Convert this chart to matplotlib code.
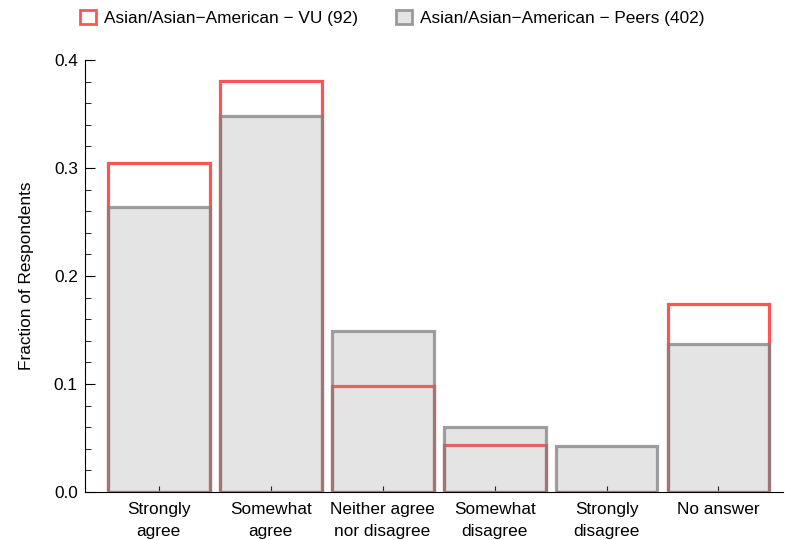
import matplotlib.pyplot as plt
from matplotlib.patches import Patch
from matplotlib.ticker import MultipleLocator

plt.rcParams['font.family'] = ['Liberation Sans', 'DejaVu Sans']

categories = ['Strongly\nagree', 'Somewhat\nagree', 'Neither agree\nnor disagree',
              'Somewhat\ndisagree', 'Strongly\ndisagree', 'No answer']
vu_counts = [28, 35, 9, 4, 0, 16]
peer_counts = [106, 140, 60, 24, 17, 55]
vu_label = 'Asian/Asian\u2212American \u2212 VU (92)'
peer_label = 'Asian/Asian\u2212American \u2212 Peers (402)'

vu = [c / sum(vu_counts) for c in vu_counts]
peers = [c / sum(peer_counts) for c in peer_counts]

red = (1.0, 0.33, 0.33)
gray_edge = (0.5, 0.5, 0.5, 0.75)
gray_fill = (0.58, 0.58, 0.58, 0.25)
fs = 12.4

fig = plt.figure(figsize=(7.85, 5.4), dpi=100)
ax = fig.add_axes([0.108, 0.089, 0.89, 0.8])

x = range(len(categories))
ax.bar(x, vu, width=0.91, facecolor='none', edgecolor=red, linewidth=2.3, zorder=2)
ax.bar(x, peers, width=0.91, facecolor=gray_fill, edgecolor=gray_edge, linewidth=2.3, zorder=3)

ax.set_xlim(-0.66, 5.58)
ax.set_ylim(0, 0.4)
ax.set_xticks(list(x))
ax.set_xticklabels(categories, fontsize=fs, linespacing=1.65)
ax.yaxis.set_major_locator(MultipleLocator(0.1))
ax.yaxis.set_minor_locator(MultipleLocator(0.02))
ax.yaxis.set_major_formatter(plt.FuncFormatter(lambda v, p: f'{v:.1f}'))
ax.tick_params(axis='y', which='major', direction='in', length=7, labelsize=fs, pad=5)
ax.tick_params(axis='y', which='minor', direction='in', length=4)
ax.tick_params(axis='x', direction='in', length=4, pad=7)
ax.spines['top'].set_visible(False)
ax.spines['right'].set_visible(False)
ax.set_ylabel('Fraction of Respondents', fontsize=fs, labelpad=14)

handles = [Patch(facecolor='white', edgecolor=red, linewidth=2),
           Patch(facecolor='#e4e4e4', edgecolor='#999999', linewidth=2)]
fig.legend(handles, [vu_label, peer_label], loc='center', bbox_to_anchor=(0.5, 0.967),
           ncol=2, frameon=False, fontsize=fs, handlelength=0.9, handleheight=0.9,
           columnspacing=2.2, handletextpad=0.5)

fig.savefig('out.png', dpi=100)
